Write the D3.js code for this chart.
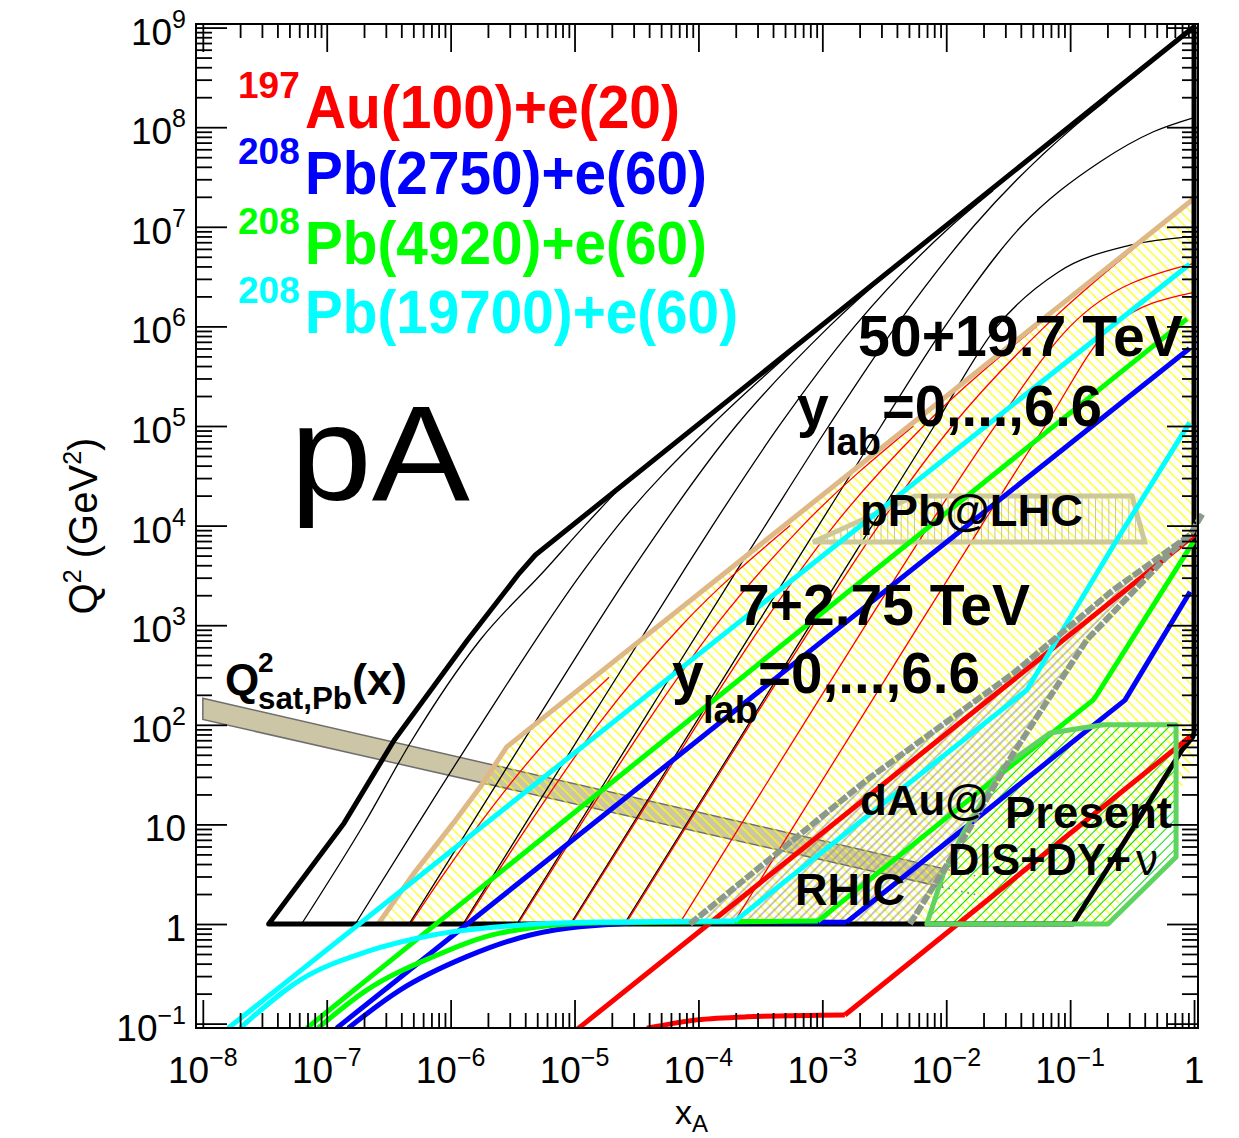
<!DOCTYPE html>
<html>
<head>
<meta charset="utf-8">
<script src="https://cdn.jsdelivr.net/npm/d3@7"></script>
<style>
  body { margin: 0; background: #fff; }
  svg text { font-family: "Liberation Sans", Arial, Helvetica, sans-serif; }
</style>
</head>
<body>
<svg id="chart" width="1239" height="1138"></svg>
<script>
// ---------- axis ticks ----------
const xMajorTicks = [1e-8, 1e-7, 1e-6, 1e-5, 1e-4, 1e-3, 1e-2, 1e-1, 1];
const xTickLabels = [["10", "\u22128"], ["10", "\u22127"], ["10", "\u22126"], ["10", "\u22125"], ["10", "\u22124"],
                     ["10", "\u22123"], ["10", "\u22122"], ["10", "\u22121"], ["1", ""]];
const yMajorTicks = [1e-1, 1, 10, 1e2, 1e3, 1e4, 1e5, 1e6, 1e7, 1e8, 1e9];
const yTickLabels = [["10", "\u22121"], ["1", ""], ["10", ""], ["10", "2"], ["10", "3"], ["10", "4"],
                     ["10", "5"], ["10", "6"], ["10", "7"], ["10", "8"], ["10", "9"]];

// ---------- 50+19.7 TeV : kinematic limit and y_lab = 0..6 lines ----------
const fccLimit = [[3.4e-8, 1], [1.38e-7, 10.3], [3.5e-7, 70], [1.37e-6, 710], [3.58e-6, 3320], [4.83e-6, 5070],
                  [1, 1.02e9], [1, 83], [0.98, 76], [0.80, 56], [0.105, 1]];
const fccRapidity = [
  [[6.26e-8, 1], [2.0e-7, 10.1], [4.87e-7, 70], [1.73e-6, 710], [5.78e-6, 3580], [1.22e-5, 1.01e4], [2.33e-5, 2.39e4]],
  [[1.70e-7, 1], [5.41e-7, 10], [1.75e-6, 100], [1.19e-5, 3580], [2.24e-5, 1e4], [1.26e-4, 1e5], [6.25e-4, 6.2e5]],
  [[4.62e-7, 1], [1.47e-6, 10], [4.67e-6, 100], [2.91e-5, 3580], [2.01e-4, 1e5], [1.14e-3, 1e6], [9.6e-3, 1e7]],
  [[1.26e-6, 1], [3.98e-6, 10], [1.26e-5, 100], [7.66e-5, 3580], [1.3e-4, 1e4], [4.48e-4, 1e5], [1.82e-3, 1e6], [0.0108, 1e7], [0.0238, 2.3e7]],
  [[3.42e-6, 1], [1.08e-5, 10], [3.41e-5, 100], [2.05e-4, 3580], [3.46e-4, 1e4], [1.126e-3, 1e5], [3.92e-3, 1e6], [0.0165, 1e7], [0.106, 1e8], [0.2, 1.9e8]],
  [[9.28e-6, 1], [2.94e-5, 10], [9.29e-5, 100], [2.94e-4, 1000], [9.33e-4, 1e4], [2.98e-3, 1e5], [9.77e-3, 1e6], [0.04, 1e7], [0.175, 4.5e7], [0.47, 9e7], [1, 1.25e8]],
  [[2.52e-5, 1], [7.97e-5, 10], [2.52e-4, 100], [7.97e-4, 1000], [2.52e-3, 1e4], [8.0e-3, 1e5], [0.0257, 1e6], [0.08, 3.5e6], [0.3, 6.5e6], [1, 8e6]]
];

// ---------- 7+2.75 TeV : kinematic limit and y_lab lines ----------
const lhcLimit = [[2.6e-7, 1], [5.06e-7, 3.23], [1.05e-6, 10.3], [1.78e-6, 24.9], [2.84e-6, 60], [1, 1.92e7]];
const lhcRegionClose = [[1, 40], [0.2, 1]];
const lhcRapidity = [
  [[4.73e-7, 1], [8.55e-7, 3], [1.7e-6, 10], [7.77e-6, 100], [1.9e-5, 300]],
  [[1.286e-6, 1], [4.28e-6, 10], [1.547e-5, 100], [7.36e-5, 1000], [5.5e-4, 1e4]],
  [[3.49e-6, 1], [1.124e-5, 10], [3.74e-5, 100], [1.388e-4, 1000], [6.94e-4, 1e4], [5.43e-3, 1e5]],
  [[9.48e-6, 1], [3.02e-5, 10], [9.73e-5, 100], [3.26e-4, 1000], [1.242e-3, 1e4], [6.57e-3, 1e5], [0.0537, 1e6]],
  [[2.58e-5, 1], [8.18e-5, 10], [2.6e-4, 100], [8.42e-4, 1000], [2.85e-3, 1e4], [0.01116, 1e5], [0.0627, 1e6], [0.32, 5.9e6]],
  [[7.0e-5, 1], [2.21e-4, 10], [7.01e-4, 100], [2.236e-3, 1000], [7.25e-3, 1e4], [0.0249, 1e5], [0.1, 1e6], [1, 4.3e6]],
  [[1.9e-4, 1], [6.0e-4, 10], [1.9e-3, 100], [6.03e-3, 1000], [0.01926, 1e4], [0.0627, 1e5], [0.218, 1e6], [1, 2.2e6]]
];

// ---------- e+A machines: y = 1 line, low-Q2 acceptance curve, acceptance edge ----------
const auYOne = [[1.05e-5, 0.088], [1.2e-5, 0.1], [1, 8000]];
const auEdgeLow = [[3.83e-5, 0.09], [9.7e-5, 0.109], [2.45e-4, 0.117], [1.52e-3, 0.122]];
const auEdgeHigh = [[1.52e-3, 0.122], [0.93, 76]];
const pb2750YOne = [[1.2e-7, 0.09], [0.918, 6.0e5]];
const pb2750EdgeLow = [[1.49e-7, 0.09], [3.9e-7, 0.217], [1.35e-6, 0.47], [4.4e-6, 0.776], [1.1e-5, 0.94], [7.1e-5, 1.05], [1.57e-3, 1.04]];
const pb2750EdgeHigh = [[1.57e-3, 1.04], [0.277, 177], [0.93, 2170]];
const pb4920YOne = [[6.9e-8, 0.09], [0.877, 1.19e6]];
const pb4920EdgeLow = [[8.5e-8, 0.09], [2.1e-7, 0.217], [7.24e-7, 0.47], [2.5e-6, 0.81], [1.6e-5, 1.03], [9.2e-4, 1.07]];
const pb4920EdgeHigh = [[9.2e-4, 1.07], [0.153, 177], [0.164, 199], [0.99, 6900]];
const pb19700YOne = [[1.6e-8, 0.09], [0.92, 4.2e6]];
const pb19700EdgeLow = [[2.0e-8, 0.09], [6.1e-8, 0.274], [2.1e-7, 0.527], [7.25e-7, 0.776], [2.5e-6, 0.94], [1.6e-5, 1.05], [1.97e-4, 1.07]];
const pb19700EdgeHigh = [[1.97e-4, 1.07], [0.0447, 224], [0.238, 7170], [0.92, 1.08e5]];

// ---------- existing data regions ----------
const dAuUpper = [[8.55e-5, 1], [2.28e-3, 27.9], [0.0348, 329], [0.222, 2250], [0.93, 8050], [1.18, 1.34e4]];
const dAuLower = [[5.1e-3, 1], [0.0146, 8.14], [0.0348, 51.7], [0.136, 710], [0.64, 5270], [0.93, 8050]];
const presentRegion = [[6.97e-3, 1], [9.5e-3, 3.23], [0.0137, 8.2], [0.0287, 37.7], [0.0689, 82.7], [0.185, 100],
                       [0.716, 100], [0.716, 4.7], [0.202, 1]];
const pPbRegion = [[8.4e-4, 6840], [5.6e-3, 1.98e4], [0.316, 1.98e4], [0.40, 6840]];
const qsatBand = [[1e-8, 185], [9.25e-3, 3.63], [9.25e-3, 2.35], [1e-8, 113]];
const qsatDottedUpper = [[9.25e-3, 3.63], [0.019, 2.96]];
const qsatDottedLower = [[9.25e-3, 2.35], [0.019, 1.92]];

// ---------- legend ----------
const legendIsotopes = ["197", "208", "208", "208"];
const legendBeams = ["Au(100)+e(20)", "Pb(2750)+e(60)", "Pb(4920)+e(60)", "Pb(19700)+e(60)"];
const legendColors = ["#ff0000", "#0000ff", "#00ff00", "#00ffff"];

// ================= drawing =================
const svg = d3.select("#chart");
const L = 196, R = 1198, T = 24, B = 1028;
const x = d3.scaleLog().domain([Math.pow(10, -8.055), Math.pow(10, 0.032)]).range([L, R]);
const y = d3.scaleLog().domain([Math.pow(10, -1.044), Math.pow(10, 9.036)]).range([B, T]);

const defs = svg.append("defs");
defs.append("clipPath").attr("id", "plotClip")
  .append("rect").attr("x", L).attr("y", T).attr("width", R - L).attr("height", B - T);

function hatch(id, color, spacing, angle, width) {
  const p = defs.append("pattern").attr("id", id).attr("patternUnits", "userSpaceOnUse")
    .attr("width", spacing).attr("height", spacing)
    .attr("patternTransform", `rotate(${angle})`);
  p.append("line").attr("x1", spacing / 2).attr("y1", -1).attr("x2", spacing / 2).attr("y2", spacing + 1)
    .attr("stroke", color).attr("stroke-width", width);
}
hatch("yellowHatch", "#ffff00", 7.1, -45, 1.2);
hatch("grayHatch", "#8c8c8c", 6, 45, 1);
hatch("greenHatch", "#00e000", 7, 45, 1);
hatch("pPbHatch", "#c8c39a", 6.7, 0, 1);

const lineSmooth = d3.line().x(d => x(d[0])).y(d => y(d[1])).curve(d3.curveMonotoneX);
const lineStraight = d3.line().x(d => x(d[0])).y(d => y(d[1]));
const closedPoly = pts => lineStraight(pts) + "Z";

const plot = svg.append("g").attr("clip-path", "url(#plotClip)");

// saturation band
plot.append("path").attr("d", closedPoly(qsatBand))
  .attr("fill", "#cdc6a6").attr("stroke", "#6e6e6e").attr("stroke-width", 1.5);

// hatched regions
plot.append("path").attr("d", closedPoly(lhcLimit.concat(lhcRegionClose)))
  .attr("fill", "url(#yellowHatch)");
plot.append("path").attr("d", closedPoly(dAuUpper.slice(0, 5).concat(dAuLower.slice().reverse())))
  .attr("fill", "url(#grayHatch)");
plot.append("path").attr("d", closedPoly(presentRegion)).attr("fill", "url(#greenHatch)");
plot.append("path").attr("d", closedPoly(pPbRegion)).attr("fill", "url(#pPbHatch)");

// continuation of the saturation band inside the present-data region
[qsatDottedUpper, qsatDottedLower].forEach(c => plot.append("path").attr("d", lineStraight(c))
  .attr("fill", "none").attr("stroke", "#777").attr("stroke-width", 1.6).attr("stroke-dasharray", "1.5,5"));

// rapidity lines
fccRapidity.forEach(c => plot.append("path").attr("d", lineSmooth(c))
  .attr("fill", "none").attr("stroke", "#000").attr("stroke-width", 1.3));
lhcRapidity.forEach(c => plot.append("path").attr("d", lineSmooth(c))
  .attr("fill", "none").attr("stroke", "#ff0000").attr("stroke-width", 1.3));

// kinematic limits
plot.append("path").attr("d", lineStraight(lhcLimit))
  .attr("fill", "none").attr("stroke", "#deb887").attr("stroke-width", 5);
plot.append("path").attr("d", closedPoly(fccLimit))
  .attr("fill", "none").attr("stroke", "#000").attr("stroke-width", 5).attr("stroke-linejoin", "round");

// pPb@LHC outline
plot.append("path").attr("d", closedPoly(pPbRegion))
  .attr("fill", "none").attr("stroke", "#cdc89a").attr("stroke-width", 5);

// dAu@RHIC outline
const grayG = svg.append("g");
[dAuUpper, dAuLower].forEach(c => grayG.append("path").attr("d", lineStraight(c))
  .attr("fill", "none").attr("stroke", "#8b9a8b").attr("stroke-width", 6).attr("stroke-dasharray", "10,2"));

// e+A machine lines
const machines = [
  [auYOne, auEdgeLow, auEdgeHigh, legendColors[0]],
  [pb2750YOne, pb2750EdgeLow, pb2750EdgeHigh, legendColors[1]],
  [pb4920YOne, pb4920EdgeLow, pb4920EdgeHigh, legendColors[2]],
  [pb19700YOne, pb19700EdgeLow, pb19700EdgeHigh, legendColors[3]]
];
machines.forEach(([one, low, high, col]) => {
  plot.append("path").attr("d", lineStraight(one)).attr("fill", "none").attr("stroke", col).attr("stroke-width", 5);
  plot.append("path").attr("d", lineSmooth(low)).attr("fill", "none").attr("stroke", col).attr("stroke-width", 5);
  plot.append("path").attr("d", lineStraight(high)).attr("fill", "none").attr("stroke", col).attr("stroke-width", 5)
    .attr("stroke-linejoin", "round");
});

// present DIS+DY+nu outline
plot.append("path").attr("d", closedPoly(presentRegion))
  .attr("fill", "none").attr("stroke", "#5fd35f").attr("stroke-width", 5).attr("stroke-linejoin", "round");

// ---------- axes ----------
const xMinor = [], yMinor = [];
xMajorTicks.slice(0, -1).forEach(d => { for (let k = 2; k <= 9; k++) xMinor.push(d * k); });
yMajorTicks.slice(0, -1).forEach(d => { for (let k = 2; k <= 9; k++) yMinor.push(d * k); });

function ticks(axisFn, scale, values, size, tx, ty) {
  const g = svg.append("g").attr("transform", `translate(${tx},${ty})`)
    .call(axisFn(scale).tickValues(values).tickSize(size).tickFormat(""));
  g.select(".domain").remove();
  g.selectAll("line").attr("stroke", "#000").attr("stroke-width", 1.8);
}
ticks(d3.axisBottom, x, xMajorTicks, -28, 0, B);
ticks(d3.axisBottom, x, xMinor, -15, 0, B);
ticks(d3.axisTop, x, xMajorTicks, -28, 0, T);
ticks(d3.axisTop, x, xMinor, -14, 0, T);
ticks(d3.axisLeft, y, yMajorTicks, -31, L, 0);
ticks(d3.axisLeft, y, yMinor, -16, L, 0);
ticks(d3.axisRight, y, yMajorTicks, -31, R, 0);
ticks(d3.axisRight, y, yMinor, -16, R, 0);
svg.append("rect").attr("x", L).attr("y", T).attr("width", R - L).attr("height", B - T)
  .attr("fill", "none").attr("stroke", "#000").attr("stroke-width", 2);

// tick labels
xMajorTicks.forEach((v, i) => {
  const t = svg.append("text").attr("x", x(v)).attr("y", 1083).attr("text-anchor", "middle")
    .attr("font-size", 37);
  t.append("tspan").text(xTickLabels[i][0]);
  if (xTickLabels[i][1]) t.append("tspan").attr("dy", -17).attr("font-size", 25).text(xTickLabels[i][1]);
});
yMajorTicks.forEach((v, i) => {
  const t = svg.append("text").attr("x", 186).attr("y", y(v) + 17).attr("text-anchor", "end")
    .attr("font-size", 37);
  t.append("tspan").text(yTickLabels[i][0]);
  if (yTickLabels[i][1]) t.append("tspan").attr("dy", -17).attr("font-size", 25).text(yTickLabels[i][1]);
});

// axis titles
const yt = svg.append("text").attr("transform", "translate(97,526) rotate(-90)")
  .attr("text-anchor", "middle").attr("font-size", 40);
yt.append("tspan").text("Q");
yt.append("tspan").attr("dy", -16).attr("font-size", 25).text("2");
yt.append("tspan").attr("dy", 16).text(" (GeV");
yt.append("tspan").attr("dy", -16).attr("font-size", 25).text("2");
yt.append("tspan").attr("dy", 16).text(")");
const xt = svg.append("text").attr("x", 675).attr("y", 1124).attr("font-size", 34);
xt.append("tspan").text("x");
xt.append("tspan").attr("dy", 8).attr("font-size", 24).text("A");

// ---------- legend ----------
const legendBase = [128, 194, 264, 333];
const legendWidths = [375, 402, 402, 433];
legendBeams.forEach((b, i) => {
  svg.append("text").attr("x", 238).attr("y", legendBase[i] - 30).attr("font-size", 37)
    .attr("font-weight", "bold").attr("fill", legendColors[i]).text(legendIsotopes[i]);
  svg.append("text").attr("x", 305).attr("y", legendBase[i]).attr("font-size", 61)
    .attr("font-weight", "bold").attr("fill", legendColors[i])
    .attr("textLength", legendWidths[i]).attr("lengthAdjust", "spacingAndGlyphs").text(b);
});

// ---------- annotations ----------
function label(txt, px, py, size, len, opts = {}) {
  const t = svg.append("text").attr("x", px).attr("y", py).attr("font-size", size)
    .attr("font-weight", opts.weight || "bold").attr("fill", "#000").text(txt);
  if (len) t.attr("textLength", len).attr("lengthAdjust", "spacingAndGlyphs");
  return t;
}
label("pA", 290, 500, 135, 180, { weight: "normal" });
label("50+19.7 TeV", 858, 356, 57, 325);
label("y", 797, 426, 57);
label("lab", 826, 455, 38);
label("=0,...,6.6", 882, 426, 57, 220);
label("pPb@LHC", 860, 526, 44, 223);
label("7+2.75 TeV", 738, 625, 58, 292);
label("y", 672, 693, 57);
label("lab", 703, 723, 38);
label("=0,...,6.6", 758, 693, 57, 222);
label("Q", 225, 695, 44);
label("2", 258, 672, 28);
label("sat,Pb", 258, 709, 32, 94);
label("(x)", 352, 695, 44, 55);
label("dAu@", 860, 815, 43, 128);
label("RHIC", 795, 905, 45, 110);
label("Present", 1005, 828, 45, 167);
label("DIS+DY+", 948, 875, 45, 183);
svg.append("text").attr("x", 1136).attr("y", 875).attr("font-size", 44)
  .attr("font-family", "'Liberation Serif', 'DejaVu Serif', serif").text("\u03bd");
</script>
</body>
</html>
